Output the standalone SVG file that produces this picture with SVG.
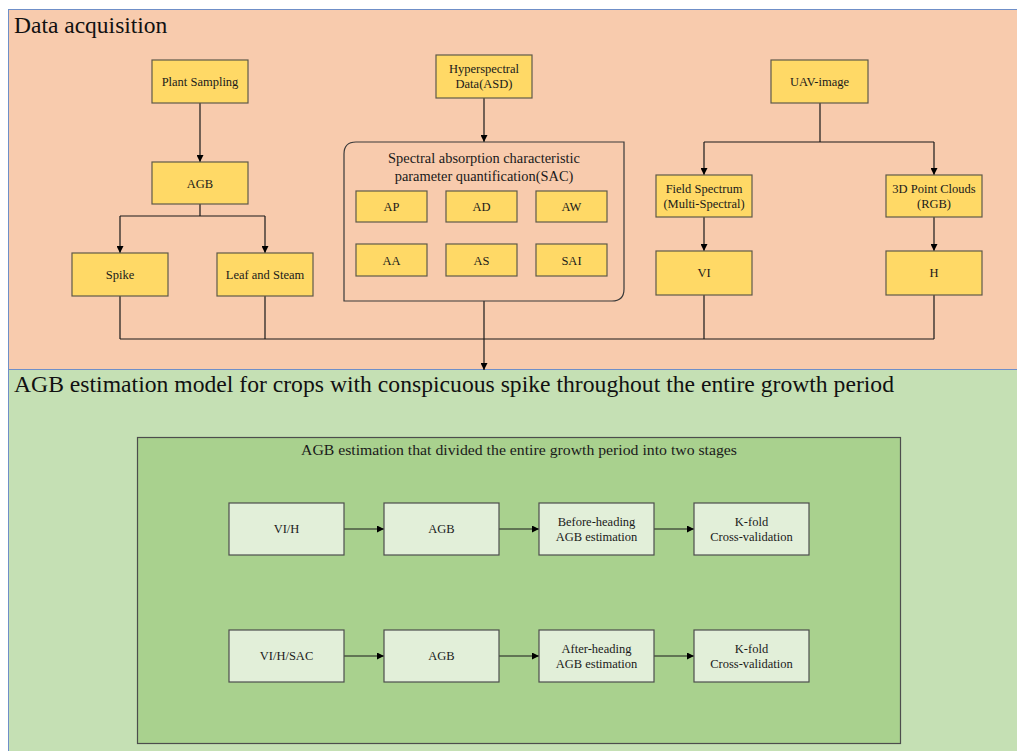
<svg xmlns="http://www.w3.org/2000/svg" width="1017" height="751" viewBox="0 0 1017 751">
<defs>
<marker id="ah" viewBox="0 0 10 10" refX="10" refY="5" markerWidth="7" markerHeight="7" markerUnits="userSpaceOnUse" orient="auto">
<path d="M0,0 L10,5 L0,10 z" fill="#000"/>
</marker>
<style>
.panel{stroke:#6f8fc8;stroke-width:1}
.y{fill:#FFD966;stroke:#5f5a4a;stroke-width:1.2}
.g{fill:#E2EFD9;stroke:#4d4d4d;stroke-width:1.2}
.t{font-family:"Liberation Serif",serif;font-size:12.5px;fill:#1a1a1a;text-anchor:middle}
.h{font-family:"Liberation Serif",serif;font-size:23.5px;fill:#111}
.c{fill:none;stroke:#1a1a1a;stroke-width:1.2}
.ca{fill:none;stroke:#1a1a1a;stroke-width:1.2;marker-end:url(#ah)}
</style>
</defs>
<rect width="1017" height="751" fill="#fff"/>
<g id="panel-data">
<rect class="panel" x="8.5" y="9.5" width="1010" height="360" fill="#F8CBAD"/>
<text class="h" x="14" y="33">Data acquisition</text>
</g>
<g id="panel-model">
<rect class="panel" x="8.5" y="369.5" width="1010" height="383" fill="#C5E0B4"/>
<text class="h" x="14" y="392" textLength="880" lengthAdjust="spacingAndGlyphs">AGB estimation model for crops with conspicuous spike throughout the entire growth period</text>
</g>
<g id="stage-box">
<rect x="137.5" y="437.5" width="763" height="306" fill="#A9D18E" stroke="#4d4d4d" stroke-width="1.2"/>
<text class="t" x="519" y="455" style="font-size:14.5px" textLength="436" lengthAdjust="spacingAndGlyphs">AGB estimation that divided the entire growth period into two stages</text>
</g>
<g id="connectors">
<path class="ca" d="M200,103 V162"/>
<path class="c" d="M200,204 V216 M120,216 H265"/>
<path class="ca" d="M120,216 V253"/>
<path class="ca" d="M265,216 V253"/>
<path class="c" d="M120,296 V339 M265,296 V339 M704,295 V339 M934,295 V339 M120,339 H934"/>
<path class="ca" d="M484,98 V142"/>
<path class="ca" d="M484,301 V370"/>
<path class="c" d="M820,103 V142 M704,142 H934"/>
<path class="ca" d="M704,142 V175"/>
<path class="ca" d="M934,142 V175"/>
<path class="ca" d="M704,217 V251"/>
<path class="ca" d="M934,217 V251"/>
<path class="ca" d="M344,529 H384"/>
<path class="ca" d="M499,529 H539"/>
<path class="ca" d="M654,529 H694"/>
<path class="ca" d="M344,656 H384"/>
<path class="ca" d="M499,656 H539"/>
<path class="ca" d="M654,656 H694"/>
</g>
<g id="plant-sampling"><rect class="y" x="152" y="60" width="96" height="43"/><text class="t" x="200" y="86">Plant Sampling</text></g>
<g id="agb-top"><rect class="y" x="152" y="162" width="96" height="42"/><text class="t" x="200" y="188">AGB</text></g>
<g id="spike"><rect class="y" x="72" y="253" width="96" height="43"/><text class="t" x="120" y="279">Spike</text></g>
<g id="leaf-steam"><rect class="y" x="217" y="253" width="96" height="43"/><text class="t" x="265" y="279">Leaf and Steam</text></g>
<g id="hyperspectral"><rect class="y" x="436" y="55" width="96" height="43"/><text class="t" x="484" y="73">Hyperspectral</text><text class="t" x="484" y="88">Data(ASD)</text></g>
<g id="sac">
<path d="M356,142 H624 V289 Q624,301 612,301 H344 V154 Q344,142 356,142 Z" fill="none" stroke="#3a3a3a" stroke-width="1.2"/>
<text class="t" x="484" y="163" style="font-size:14.4px">Spectral absorption characteristic</text>
<text class="t" x="484" y="181" style="font-size:14.4px">parameter quantification(SAC)</text>
</g>
<g id="ap"><rect class="y" x="356" y="191" width="71" height="31"/><text class="t" x="391.5" y="211">AP</text></g>
<g id="ad"><rect class="y" x="446" y="191" width="71" height="31"/><text class="t" x="481.5" y="211">AD</text></g>
<g id="aw"><rect class="y" x="536" y="191" width="71" height="31"/><text class="t" x="571.5" y="211">AW</text></g>
<g id="aa"><rect class="y" x="356" y="244" width="71" height="32"/><text class="t" x="391.5" y="265">AA</text></g>
<g id="as"><rect class="y" x="446" y="244" width="71" height="32"/><text class="t" x="481.5" y="265">AS</text></g>
<g id="sai"><rect class="y" x="536" y="244" width="71" height="32"/><text class="t" x="571.5" y="265">SAI</text></g>
<g id="uav"><rect class="y" x="771" y="60" width="97" height="43"/><text class="t" x="819.5" y="86">UAV-image</text></g>
<g id="field-spectrum"><rect class="y" x="656" y="175" width="96" height="42"/><text class="t" x="704" y="193">Field Spectrum</text><text class="t" x="704" y="208">(Multi-Spectral)</text></g>
<g id="point-clouds"><rect class="y" x="886" y="175" width="96" height="42"/><text class="t" x="934" y="193">3D Point Clouds</text><text class="t" x="934" y="208">(RGB)</text></g>
<g id="vi"><rect class="y" x="656" y="251" width="96" height="44"/><text class="t" x="704" y="277">VI</text></g>
<g id="h"><rect class="y" x="886" y="251" width="96" height="44"/><text class="t" x="934" y="277">H</text></g>
<g id="vi-h"><rect class="g" x="229" y="503" width="115" height="52"/><text class="t" x="286.5" y="533">VI/H</text></g>
<g id="agb-1"><rect class="g" x="384" y="503" width="115" height="52"/><text class="t" x="441.5" y="533">AGB</text></g>
<g id="before-heading"><rect class="g" x="539" y="503" width="115" height="52"/><text class="t" x="596.5" y="526">Before-heading</text><text class="t" x="596.5" y="541">AGB estimation</text></g>
<g id="kfold-1"><rect class="g" x="694" y="503" width="115" height="52"/><text class="t" x="751.5" y="526">K-fold</text><text class="t" x="751.5" y="541">Cross-validation</text></g>
<g id="vi-h-sac"><rect class="g" x="229" y="630" width="115" height="52"/><text class="t" x="286.5" y="660">VI/H/SAC</text></g>
<g id="agb-2"><rect class="g" x="384" y="630" width="115" height="52"/><text class="t" x="441.5" y="660">AGB</text></g>
<g id="after-heading"><rect class="g" x="539" y="630" width="115" height="52"/><text class="t" x="596.5" y="653">After-heading</text><text class="t" x="596.5" y="668">AGB estimation</text></g>
<g id="kfold-2"><rect class="g" x="694" y="630" width="115" height="52"/><text class="t" x="751.5" y="653">K-fold</text><text class="t" x="751.5" y="668">Cross-validation</text></g>
</svg>
